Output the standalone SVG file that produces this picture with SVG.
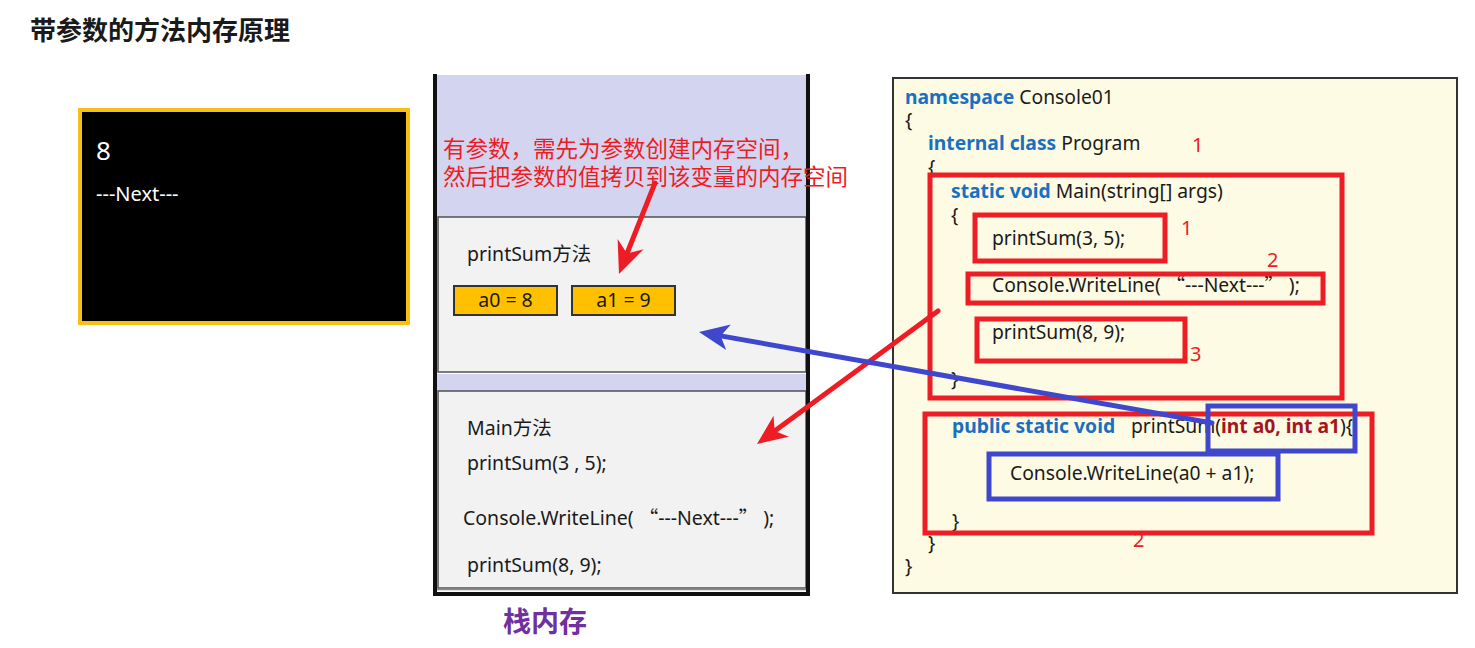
<svg xmlns="http://www.w3.org/2000/svg" width="1475" height="648" viewBox="0 0 1475 648">
<style>
text{font-family:"Noto Sans","Noto Sans CJK SC",sans-serif;}
.t{font-size:19.5px;fill:#1a1a1a;}
.code{font-size:19.3px;fill:#1a1a1a;}
.kw{fill:#1a70c0;font-weight:bold;}
.pr{fill:#a31520;font-weight:bold;}
.q{font-family:"Noto Sans CJK SC",sans-serif;}
.num{font-size:20px;fill:#ee1c25;}
.cn{font-family:"Noto Sans CJK SC",sans-serif;font-size:22.5px;fill:#ee1c25;}
.rbox{fill:none;stroke:#ee1c25;stroke-width:5;}
.bbox{fill:none;stroke:#3f48cc;stroke-width:5;}
.sec{fill:#f2f2f2;stroke:#505050;stroke-width:1.5;}
.lav{fill:#d3d5f0;}
.var{fill:#ffc000;stroke:#333;stroke-width:2;}
</style>
<rect width="1475" height="648" fill="#ffffff"/>
<text x="30" y="40" style="font-family:'Noto Sans CJK SC',sans-serif;font-size:26px;font-weight:bold;fill:#1a1a1a">带参数的方法内存原理</text>

<g id="console">
<rect x="80" y="110" width="328" height="213" fill="#000" stroke="#f8c014" stroke-width="4"/>
<text x="96" y="160" style="font-size:26px;fill:#fff">8</text>
<text x="96" y="201" style="font-size:20px;fill:#fff">---Next---</text>
</g>

<g id="stack">
<rect class="lav" x="436" y="75" width="371" height="142"/>
<rect class="sec" x="438" y="217" width="368" height="155"/>
<rect class="lav" x="437" y="374" width="370" height="17"/>
<rect class="sec" x="438" y="391" width="368" height="197"/>
<line x1="436" y1="589.5" x2="807" y2="589.5" stroke="#888" stroke-width="1.5"/>
<line x1="435" y1="74" x2="435" y2="596" stroke="#111" stroke-width="4"/>
<line x1="808" y1="74" x2="808" y2="596" stroke="#111" stroke-width="4"/>
<line x1="433" y1="594" x2="810" y2="594" stroke="#111" stroke-width="4"/>
<text class="t" x="467" y="261">printSum方法</text>
<g id="var-a0"><rect class="var" x="454" y="286" width="103" height="29"/><text class="t" x="505.5" y="307" text-anchor="middle">a0 = 8</text></g>
<g id="var-a1"><rect class="var" x="572" y="286" width="103" height="29"/><text class="t" x="623.5" y="307" text-anchor="middle">a1 = 9</text></g>
<text class="t" x="467" y="435">Main方法</text>
<text class="t" x="467" y="470">printSum(3 , 5);</text>
<text class="t" x="463" y="525">Console.WriteLine( <tspan class="q">“</tspan>---Next---<tspan class="q">”</tspan> );</text>
<text class="t" x="467" y="572">printSum(8, 9);</text>
<text x="503" y="632" style="font-family:'Noto Sans CJK SC',sans-serif;font-size:28px;font-weight:bold;fill:#7030a0">栈内存</text>
</g>

<g id="note">
<text class="cn" x="443" y="157">有参数，需先为参数创建内存空间，</text>
<text class="cn" x="443" y="185">然后把参数的值拷贝到该变量的内存空间</text>
</g>

<g id="code">
<rect x="893" y="78" width="564" height="515" fill="#fdfbe3" stroke="#333" stroke-width="2"/>
<text class="code" x="905" y="104"><tspan class="kw">namespace</tspan> Console01</text>
<text class="code" x="905" y="127">{</text>
<text class="code" x="928" y="150"><tspan class="kw">internal class</tspan> Program</text>
<text class="code" x="928" y="174">{</text>
<text class="code" x="951" y="198"><tspan class="kw">static void</tspan> Main(string[] args)</text>
<text class="code" x="951" y="222">{</text>
<text class="code" x="992" y="245">printSum(3, 5);</text>
<text class="code" x="992" y="292">Console.WriteLine( <tspan class="q">“</tspan>---Next---<tspan class="q">”</tspan> );</text>
<text class="code" x="992" y="339">printSum(8, 9);</text>
<text class="code" x="951" y="386">}</text>
<text class="code" x="952" y="433"><tspan class="kw">public static void</tspan><tspan x="1131">printSum(</tspan><tspan class="pr">int a0, int a1</tspan>){</text>
<text class="code" x="1010" y="480">Console.WriteLine(a0 + a1);</text>
<text class="code" x="952" y="528">}</text>
<text class="code" x="928" y="550">}</text>
<text class="code" x="905" y="573">}</text>
<g id="highlights">
<rect class="rbox" x="930" y="175" width="412" height="223"/>
<rect class="rbox" x="975" y="215" width="190" height="46"/>
<rect class="rbox" x="968" y="274" width="355" height="29"/>
<rect class="rbox" x="977" y="319" width="208" height="42"/>
<rect class="rbox" x="925" y="414" width="447" height="119"/>
<rect class="bbox" x="1208" y="406" width="147" height="45"/>
<rect class="bbox" x="989" y="454" width="289" height="45"/>
</g>
<text class="num" x="1192" y="152">1</text>
<text class="num" x="1181" y="235">1</text>
<text class="num" x="1267" y="267">2</text>
<text class="num" x="1190" y="361">3</text>
<text class="num" x="1133" y="547">2</text>
</g>

<g id="connectors">
<line x1="655" y1="183" x2="627" y2="253.5" stroke="#ee1c25" stroke-width="5" stroke-linecap="round"/>
<polygon points="619,274 643.6,249.3 627,253.5 617.6,239.1" fill="#ee1c25"/>
<line x1="938" y1="311" x2="774.7" y2="431" stroke="#ee1c25" stroke-width="5" stroke-linecap="round"/>
<polygon points="757,444 773.5,415.7 774.7,431 788.9,436.7" fill="#ee1c25"/>
<line x1="1212" y1="423" x2="720.7" y2="335.9" stroke="#3f48cc" stroke-width="5" stroke-linecap="round"/>
<polygon points="699,332 730.8,324.4 720.7,335.9 726.2,350" fill="#3f48cc"/>
</g>
</svg>
